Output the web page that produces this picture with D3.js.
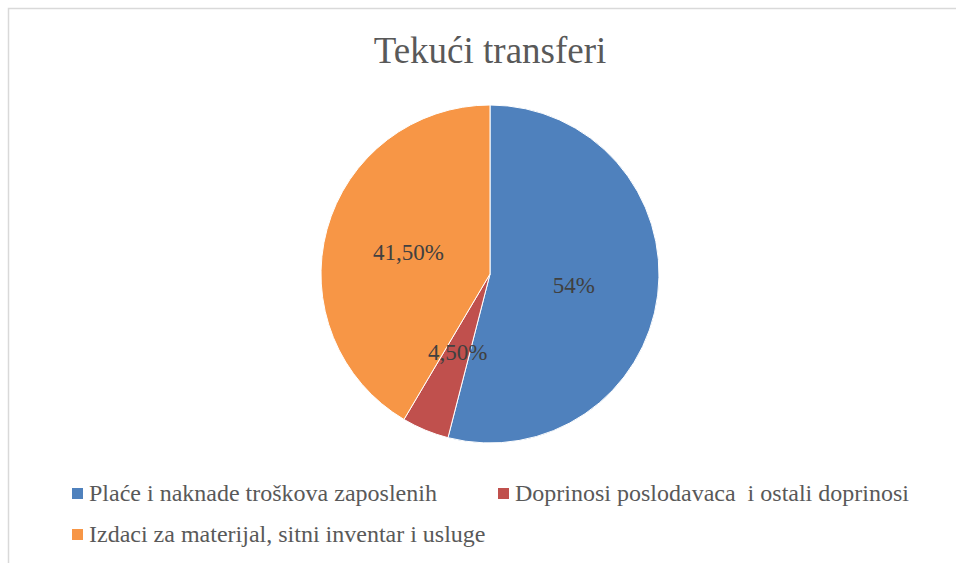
<!DOCTYPE html>
<html>
<head>
<meta charset="utf-8">
<script src="https://cdn.jsdelivr.net/npm/d3@7"></script>
<style>
  body { margin: 0; background: #fff; }
  text { font-family: "Liberation Serif", "Times New Roman", serif; }
</style>
</head>
<body>
<script>
// chart data
var categories = ["Plaće i naknade troškova zaposlenih", "Doprinosi poslodavaca  i ostali doprinosi", "Izdaci za materijal, sitni inventar i usluge"];
var values = [54, 4.5, 41.5];
var valueLabels = ["54%", "4,50%", "41,50%"];
var colors = ["#4f81bd", "#c0504d", "#f79646"];

var width = 956, height = 563;

var svg = d3.select("body").append("svg")
  .attr("width", width)
  .attr("height", height);

// chart frame (only left and top edges show)
svg.append("path")
  .attr("d", "M8.5," + height + " V8.5 H" + width)
  .attr("fill", "none")
  .attr("stroke", "#d9d9d9")
  .attr("stroke-width", 1.5);

// title
svg.append("text")
  .attr("x", 490)
  .attr("y", 63)
  .attr("text-anchor", "middle")
  .style("font-size", "37px")
  .style("fill", "#595959")
  .text("Tekući transferi");

var radius = 169;
var g = svg.append("g").attr("transform", "translate(490,274)");

var pie = d3.pie().sort(null).value(d => d);
var arc = d3.arc().innerRadius(0).outerRadius(radius);
var arcs = pie(values);

g.selectAll("path.slice")
  .data(arcs)
  .enter()
  .append("path")
  .attr("class", "slice")
  .attr("d", arc)
  .attr("fill", (d, i) => colors[i])
  .attr("stroke", "#fff")
  .attr("stroke-width", 1);

g.selectAll("text.lbl")
  .data(arcs)
  .enter()
  .append("text")
  .attr("class", "lbl")
  .attr("transform", d => "translate(" + arc.centroid(d) + ")")
  .attr("text-anchor", "middle")
  .attr("dy", "0.35em")
  .style("font-size", "23px")
  .style("fill", "#404040")
  .text((d, i) => valueLabels[i]);

// legend
var legendPos = [[72, 501], [498, 501], [72, 542]];
var legend = svg.selectAll("g.key")
  .data(categories)
  .enter()
  .append("g")
  .attr("class", "key")
  .attr("transform", (d, i) => "translate(" + legendPos[i][0] + "," + legendPos[i][1] + ")");

legend.append("rect")
  .attr("x", 0)
  .attr("y", -13)
  .attr("width", 11)
  .attr("height", 11)
  .attr("fill", (d, i) => colors[i]);

legend.append("text")
  .attr("x", 17)
  .attr("y", 0)
  .style("font-size", "24px")
  .style("fill", "#595959")
  .style("white-space", "pre")
  .text(d => d);
</script>
</body>
</html>
